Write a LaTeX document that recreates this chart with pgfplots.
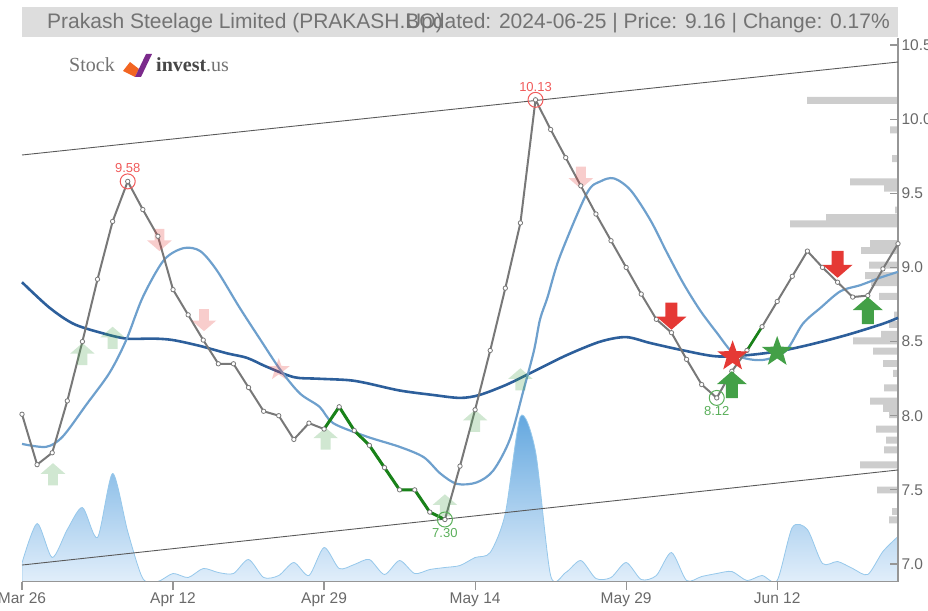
\documentclass[border=0pt]{standalone}
\usepackage{fontspec}
\setmainfont{Liberation Sans}
\newfontfamily\logofont{Liberation Serif}
\usepackage{pgfplots}
\pgfplotsset{compat=1.18}
\usepackage{pgfplotstable}

\definecolor{axisgray}{RGB}{150,150,150}
\definecolor{labelgray}{RGB}{105,105,105}
\definecolor{titlebg}{RGB}{221,221,221}
\definecolor{titlefg}{RGB}{115,115,115}
\definecolor{pricegray}{RGB}{120,120,120}
\definecolor{sigred}{RGB}{229,57,53}
\definecolor{siggreen}{RGB}{67,160,71}
\definecolor{annred}{RGB}{240,90,90}
\definecolor{anngreen}{RGB}{90,175,90}
\definecolor{trendgreen}{RGB}{25,130,25}
\definecolor{malight}{RGB}{110,160,205}
\definecolor{madark}{RGB}{45,95,155}
\definecolor{volline}{RGB}{150,200,235}
\definecolor{voltop}{RGB}{95,165,222}
\definecolor{volbot}{RGB}{232,242,252}
\definecolor{profgray}{RGB}{205,205,205}
\definecolor{chan}{RGB}{90,90,90}
\definecolor{logoorange}{RGB}{242,101,34}
\definecolor{logopurple}{RGB}{123,42,139}

\pgfdeclareplotmark{uarr}{%
  \pgfpathmoveto{\pgfpoint{0pt}{0pt}}%
  \pgfpathlineto{\pgfpoint{-15pt}{-13pt}}%
  \pgfpathlineto{\pgfpoint{-6pt}{-13pt}}%
  \pgfpathlineto{\pgfpoint{-6pt}{-27pt}}%
  \pgfpathlineto{\pgfpoint{6pt}{-27pt}}%
  \pgfpathlineto{\pgfpoint{6pt}{-13pt}}%
  \pgfpathlineto{\pgfpoint{15pt}{-13pt}}%
  \pgfpathclose\pgfusepathqfill}
\pgfdeclareplotmark{darr}{%
  \pgfpathmoveto{\pgfpoint{0pt}{0pt}}%
  \pgfpathlineto{\pgfpoint{-15pt}{13pt}}%
  \pgfpathlineto{\pgfpoint{-6pt}{13pt}}%
  \pgfpathlineto{\pgfpoint{-6pt}{27pt}}%
  \pgfpathlineto{\pgfpoint{6pt}{27pt}}%
  \pgfpathlineto{\pgfpoint{6pt}{13pt}}%
  \pgfpathlineto{\pgfpoint{15pt}{13pt}}%
  \pgfpathclose\pgfusepathqfill}
\pgfdeclareplotmark{fstar}{%
  \pgfpathmoveto{\pgfpoint{0pt}{16pt}}%
  \pgfpathlineto{\pgfpoint{-3.82pt}{5.26pt}}%
  \pgfpathlineto{\pgfpoint{-15.22pt}{4.94pt}}%
  \pgfpathlineto{\pgfpoint{-6.18pt}{-2.01pt}}%
  \pgfpathlineto{\pgfpoint{-9.40pt}{-12.94pt}}%
  \pgfpathlineto{\pgfpoint{0pt}{-6.5pt}}%
  \pgfpathlineto{\pgfpoint{9.40pt}{-12.94pt}}%
  \pgfpathlineto{\pgfpoint{6.18pt}{-2.01pt}}%
  \pgfpathlineto{\pgfpoint{15.22pt}{4.94pt}}%
  \pgfpathlineto{\pgfpoint{3.82pt}{5.26pt}}%
  \pgfpathclose\pgfusepathqfill}

\pgfplotstableread{
i p
0 8.01
1 7.67
2 7.75
3 8.10
4 8.50
5 8.92
6 9.31
7 9.58
8 9.39
9 9.21
10 8.85
11 8.68
12 8.51
13 8.35
14 8.35
15 8.19
16 8.03
17 8.00
18 7.84
19 7.95
20 7.91
21 8.06
22 7.90
23 7.80
24 7.65
25 7.50
26 7.50
27 7.35
28 7.30
29 7.66
30 8.04
31 8.44
32 8.86
33 9.30
34 10.13
35 9.93
36 9.74
37 9.55
38 9.36
39 9.18
40 9.00
41 8.82
42 8.65
43 8.56
44 8.38
45 8.21
46 8.12
47 8.30
48 8.44
49 8.60
50 8.77
51 8.94
52 9.11
53 9.00
54 8.90
55 8.80
56 8.81
57 8.99
58 9.16
}\pricetable

\pgfplotstableread{
i p
20 7.91
21 8.06
22 7.90
23 7.80
24 7.65
25 7.50
26 7.50
27 7.35
28 7.30
}\greenA

\pgfplotstableread{
i v
0 18.5
1 58
2 24
3 52
4 74
5 44
6 108
7 50
8 3
9 0
10 8
11 4
12 13
13 9
14 8
15 22
16 4
17 6
18 19
19 6
20 34
21 13
22 17
23 22
24 7
25 21
26 8
27 12
28 14
29 16
30 24
31 29
32 68
33 165
34 130
35 6
36 9
37 21
38 3
39 4
40 19
41 2
42 6
43 29
44 1
45 5
46 8
47 10
48 1
49 6
50 1
51 54
52 52
53 18
54 20
55 13
56 7
57 30
58 45
}\voltable

\pgfplotstableread{
i m
0 7.81
1.6 7.79
2.7 7.86
4.3 8.08
5.8 8.29
6.9 8.51
8.0 8.80
9.4 9.05
10.7 9.13
11.8 9.11
12.9 8.98
14.4 8.73
15.8 8.51
17.1 8.31
18.4 8.15
19.7 8.06
20.6 7.95
22.8 7.86
25.0 7.79
26.6 7.72
27.7 7.61
28.8 7.54
30.1 7.55
31.2 7.63
32.3 7.84
33.2 8.17
33.9 8.44
34.3 8.65
34.8 8.80
35.6 9.07
37.4 9.50
38.3 9.58
39.2 9.60
40.3 9.52
41.6 9.32
42.7 9.10
43.8 8.89
44.9 8.71
46.0 8.56
47.1 8.42
48.2 8.38
49.3 8.38
50.6 8.44
51.7 8.62
52.9 8.73
54.2 8.84
55.5 8.88
56.8 8.93
58 8.97
}\malighttable

\pgfplotstableread{
i m
0 8.90
1.8 8.73
3.4 8.62
5.2 8.56
6.9 8.52
8.7 8.52
10.0 8.51
11.8 8.47
13.6 8.42
14.9 8.39
16.2 8.33
18.0 8.26
19.5 8.25
21.6 8.24
22.8 8.22
25.0 8.17
27.2 8.14
29.0 8.12
30.3 8.14
32.1 8.21
33.9 8.30
36.1 8.41
38.3 8.50
40.0 8.53
41.6 8.49
43.8 8.44
46.0 8.40
48.2 8.41
50.4 8.44
52.6 8.49
54.8 8.55
57.0 8.62
58 8.66
}\madarktable

\pgfplotstableread{
p l
10.127 91
9.927 8
9.734 6
9.576 48
9.535 14
9.387 3
9.336 72
9.293 108
9.161 28
9.114 37
9.016 29
8.945 33
8.898 27
8.804 19
8.679 4
8.615 9
8.548 17
8.504 45
8.436 25
8.352 15
8.285 5
8.187 14
8.099 28
8.049 15
8.008 9
7.910 22
7.836 12
7.769 14
7.668 38
7.499 21
7.354 6
7.297 9
}\proftable

\begin{document}
\begin{tikzpicture}[x=1pt,y=1pt]
\useasboundingbox (-22,-28.5) rectangle (906,581.5);

% title bar
\fill[titlebg] (0,544.5) rectangle (876,574.5);
\node[anchor=base west, inner sep=0pt, text=titlefg, font=\fontsize{21}{21}\selectfont] at (25,552.5) {Prakash Steelage Limited (PRAKASH.BO)};
\node[anchor=base east, inner sep=0pt, text=titlefg, font=\fontsize{21}{21}\selectfont] at (868,552.5) {Updated: 2024-06-25 | Price: 9.16 | Change: 0.17\%};

% logo
\node[anchor=base west, inner sep=0pt, text=black!55, font=\logofont\fontsize{20}{20}\selectfont] at (47,509.5) {Stock};
\fill[logoorange] (101,510.5) -- (108,519.5) -- (117,512.5) -- (113,504.5) -- cycle;
\fill[logopurple] (113,504.5) -- (124,527.5) -- (130,527.5) -- (119,504.5) -- cycle;
\node[anchor=base west, inner sep=0pt, font=\logofont\fontsize{20}{20}\selectfont] at (134,509.5) {\textcolor{black!72}{\bfseries invest}\textcolor{black!55}{.us}};

% volume area
\begin{axis}[at={(0,0)}, anchor=south west, width=876pt, height=543.5pt, scale only axis,
  xmin=0, xmax=58, ymin=0, ymax=543.5, hide axis]
\addplot[draw=volline, line width=0.8pt, top color=voltop, bottom color=volbot, smooth, tension=0.45]
  table[x=i,y=v]{\voltable} \closedcycle;
\end{axis}

% volume profile
\begin{axis}[at={(0,0)}, anchor=south west, width=876pt, height=543.5pt, scale only axis,
  xmin=0, xmax=876, x dir=reverse, ymin=6.882, ymax=10.547, hide axis,
  xbar, bar width=0.047]
\addplot[fill=profgray, draw=none] table[x=l,y=p]{\proftable};
\end{axis}

% main
\begin{axis}[at={(0,0)}, anchor=south west, width=876pt, height=543.5pt, scale only axis,
  xmin=0, xmax=58, ymin=6.882, ymax=10.547,
  clip=false,
  axis x line*=bottom, axis y line*=right,
  axis line style={draw=axisgray, line width=1.3pt},
  xtick={0,10,20,30,40,50},
  xticklabels={Mar 26,Apr 12,Apr 29,May 14,May 29,Jun 12},
  ytick={7,7.5,8,8.5,9,9.5,10,10.5},
  yticklabels={7.0,7.5,8.0,8.5,9.0,9.5,10.0,10.5},
  xtick align=outside, ytick align=inside,
  major tick length=8pt,
  tick style={draw=axisgray, line width=1.2pt},
  minor tick num=0,
  /pgf/number format/assume math mode=true,
  ticklabel style={font=\fontsize{15.5}{15.5}\selectfont, text=labelgray},
]
% channel
\addplot[chan, line width=0.9pt] coordinates {(0,9.758) (58,10.385)};
\addplot[chan, line width=0.9pt] coordinates {(0,6.993) (58,7.634)};

% faded signals
\addplot[only marks, mark=uarr, mark options={fill=siggreen, draw=none, fill opacity=0.25, scale=0.82}]
  coordinates {(2.05,7.68) (4.0,8.49) (6.0,8.60) (20.1,7.92) (28.0,7.47) (30.0,8.04) (33.0,8.32)};
\addplot[only marks, mark=darr, mark options={fill=sigred, draw=none, fill opacity=0.25, scale=0.82}]
  coordinates {(9.1,9.11) (12.05,8.57) (37.0,9.53)};
\addplot[only marks, mark=fstar, mark options={fill=sigred, draw=none, fill opacity=0.25, scale=0.72}]
  coordinates {(17,8.31)};

% moving averages
\addplot[madark, line width=2.6pt, smooth] table[x=i,y=m]{\madarktable};
\addplot[malight, line width=2.2pt, smooth] table[x=i,y=m]{\malighttable};

% price line
\addplot[pricegray, line width=2pt] table[x=i,y=p]{\pricetable};
\addplot[trendgreen, line width=3pt] table[x=i,y=p]{\greenA};
\addplot[trendgreen, line width=2.6pt] coordinates {(48,8.44) (49,8.60)};
\addplot[only marks, mark=*, mark size=2.2pt, mark options={fill=white, draw=pricegray, line width=0.8pt}]
  table[x=i,y=p]{\pricetable};

% annotations
\addplot[only marks, mark=o, mark size=7.5pt, mark options={draw=annred, line width=1pt},
  nodes near coords, point meta=explicit symbolic,
  every node near coord/.style={font=\fontsize{13}{13}\selectfont, text=annred, anchor=south, inner sep=0pt, yshift=8pt}]
  table[x=i,y=p,meta=l]{
i p l
7 9.58 9.58
34 10.13 10.13
};
\addplot[only marks, mark=o, mark size=7.5pt, mark options={draw=anngreen, line width=1pt},
  nodes near coords, point meta=explicit symbolic,
  every node near coord/.style={font=\fontsize{13}{13}\selectfont, text=anngreen, anchor=north, inner sep=0pt, yshift=-8pt}]
  table[x=i,y=p,meta=l]{
i p l
28 7.30 7.30
46 8.12 8.12
};

% strong signals
\addplot[only marks, mark=darr, mark options={fill=sigred, draw=none}]
  coordinates {(43,8.58) (54,8.93)};
\addplot[only marks, mark=uarr, mark options={fill=siggreen, draw=none}]
  coordinates {(47,8.30) (56,8.80)};
\addplot[only marks, mark=fstar, mark options={fill=sigred, draw=none}]
  coordinates {(47.05,8.40)};
\addplot[only marks, mark=fstar, mark options={fill=siggreen, draw=none}]
  coordinates {(50,8.43)};
\end{axis}
\end{tikzpicture}
\end{document}
